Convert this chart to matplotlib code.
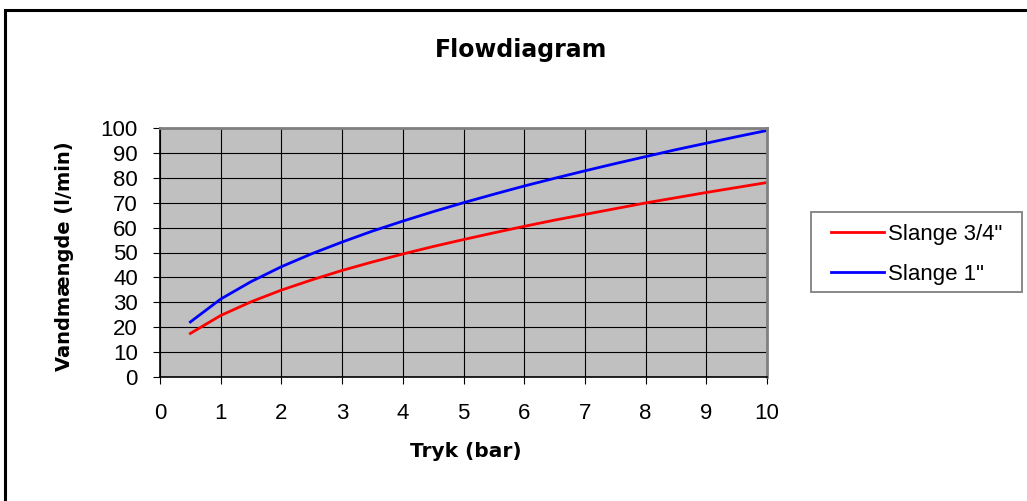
import matplotlib.pyplot as plt
import matplotlib.patches as patches

plt.rcParams['font.family'] = ['Liberation Sans', 'DejaVu Sans']

# pressure (bar)
tryk = [0.5, 1, 1.5, 2, 2.5, 3, 3.5, 4, 4.5, 5, 5.5, 6, 6.5, 7, 7.5, 8, 8.5, 9, 9.5, 10]
# flow (l/min)
slange_34 = [17.5, 24.7, 30.2, 34.9, 39.0, 42.8, 46.2, 49.4, 52.4, 55.2,
             57.9, 60.5, 63.0, 65.3, 67.6, 69.9, 72.0, 74.1, 76.1, 78.1]
slange_1 = [22.1, 31.3, 38.3, 44.3, 49.5, 54.2, 58.6, 62.6, 66.4, 70.0,
            73.4, 76.7, 79.8, 82.8, 85.7, 88.5, 91.3, 93.9, 96.5, 99.0]

xticks = list(range(0, 11))
yticks = list(range(0, 101, 10))

W, H = 1027, 501
fig = plt.figure(figsize=(W / 100, H / 100), dpi=100)
ax = fig.add_axes([160 / W, 1 - 377 / H, (767 - 160) / W, (377 - 128) / H])

ax.set_facecolor('#c0c0c0')
ax.plot(tryk, slange_34, color='#ff0000', lw=2, label='Slange 3/4"')
ax.plot(tryk, slange_1, color='#0000ff', lw=2, label='Slange 1"')

ax.set_xlim(0, 10)
ax.set_ylim(0, 100)
ax.set_xticks(xticks)
ax.set_yticks(yticks)
ax.grid(True, color='black', lw=0.8)
ax.set_axisbelow(True)

for s in ['top', 'right']:
    ax.spines[s].set_color('#808080')
    ax.spines[s].set_linewidth(2)
for s in ['left', 'bottom']:
    ax.spines[s].set_color('black')
    ax.spines[s].set_linewidth(1.2)

ax.tick_params(axis='both', direction='out', length=5, width=0.8,
               labelsize=16, colors='black')
ax.tick_params(axis='x', pad=14)
ax.tick_params(axis='y', pad=11)

ax.set_xlabel('Tryk (bar)', fontsize=14.5, fontweight='bold',
              family=['DejaVu Sans'])
ax.set_ylabel('Vandmængde (l/min)', fontsize=14, fontweight='bold',
              family=['DejaVu Sans'])
ax.xaxis.set_label_coords((466 - 160) / 607, (377 - 442) / 249)
ax.yaxis.set_label_coords((74 - 160) / 607, (377 - 256) / 249)

fig.text(521 / W, 1 - 50 / H, 'Flowdiagram', ha='center', va='center',
         fontsize=17, fontweight='bold', family=['DejaVu Sans'])

# legend without its own frame; frame drawn as a separate box
leg = ax.legend(loc='center left', bbox_to_anchor=(831 / W, 1 - 254.5 / H),
                bbox_transform=fig.transFigure, fontsize=16, frameon=False,
                handlelength=2.4, labelspacing=0.85, borderpad=0,
                handletextpad=0.15, borderaxespad=0)

legbox = patches.Rectangle((811 / W, 1 - 292 / H), (1022 - 811) / W, 80 / H,
                           transform=fig.transFigure, fill=False,
                           edgecolor='#808080', lw=1.3)
fig.patches.append(legbox)

# outer chart border (cut off at right/bottom)
border = patches.Rectangle((5 / W, -0.1), 1.2, 1.1 - 10 / H, transform=fig.transFigure,
                           fill=False, edgecolor='black', lw=2.2, clip_on=False)
fig.patches.append(border)

fig.savefig('out.png', dpi=100)
